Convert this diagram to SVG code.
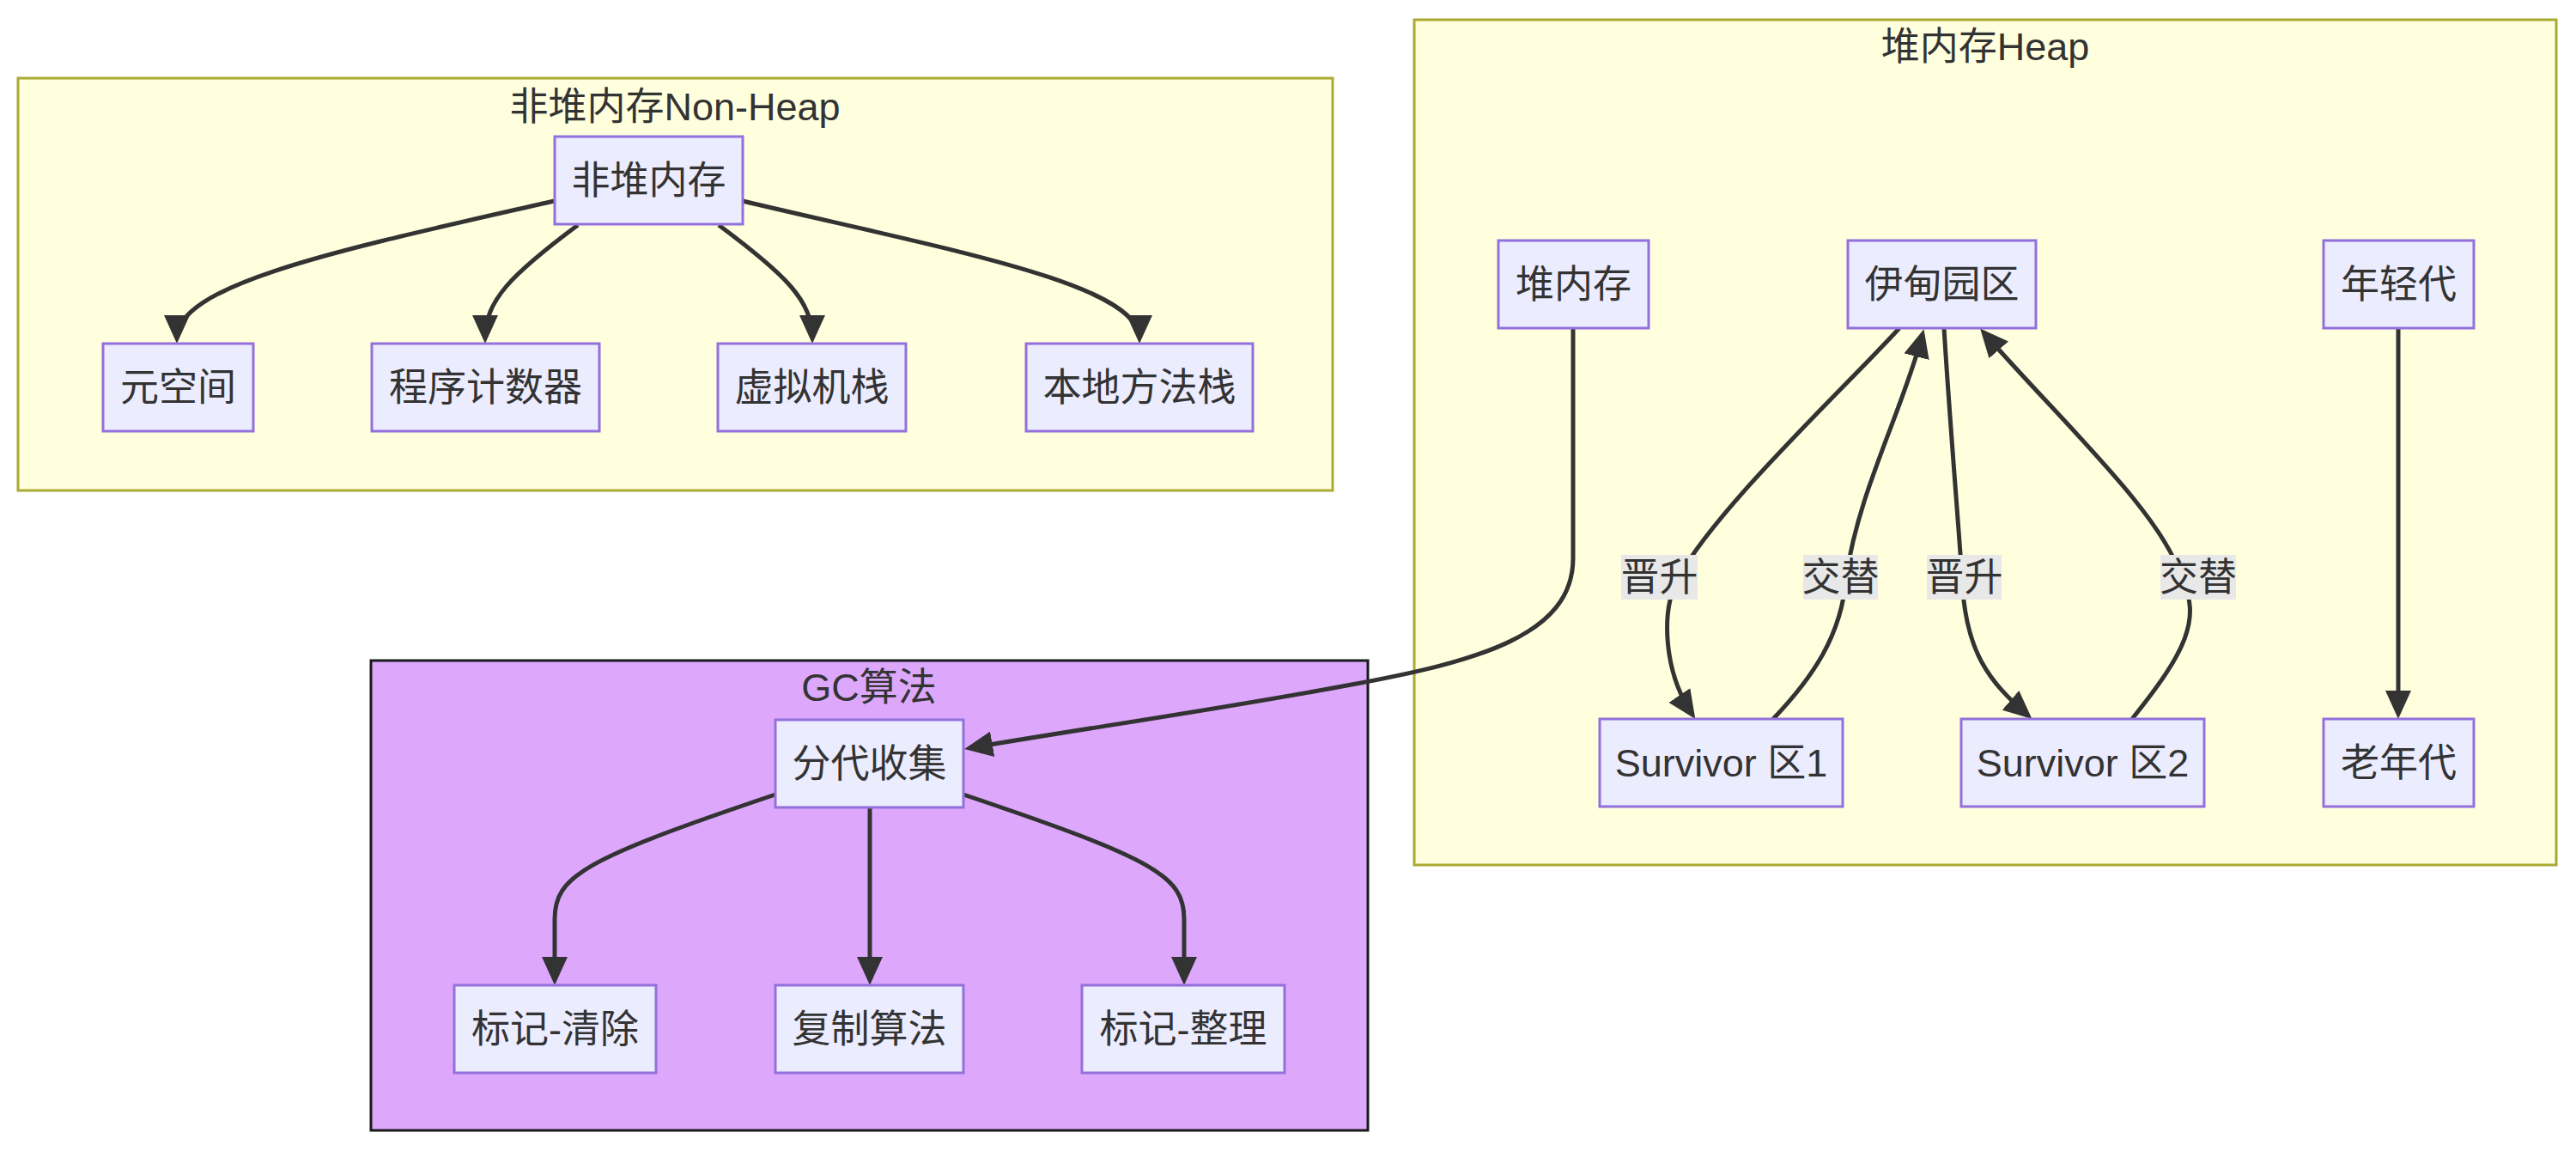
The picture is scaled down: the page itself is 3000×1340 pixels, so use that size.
<svg xmlns="http://www.w3.org/2000/svg" width="3000" height="1340" viewBox="0 0 3000 1340">
<style>
text{font-family:"Liberation Sans","Noto Sans CJK SC",sans-serif;font-size:45px;fill:#333;text-anchor:middle;dominant-baseline:central}
.cl{fill:#ffffde;stroke:#aaaa33;stroke-width:3}
.gc{fill:#dda8fc;stroke:#1a1a1a;stroke-width:3}
.nd{fill:#ececff;stroke:#9370db;stroke-width:3}
.e{fill:none;stroke:#333;stroke-width:5}
.lb{fill:#e8e8e8}
</style>
<defs>
<marker id="ah" viewBox="0 0 10 10" refX="8.2" refY="5" markerUnits="userSpaceOnUse" markerWidth="33" markerHeight="30" orient="auto" preserveAspectRatio="none">
<path d="M0,0 L10,5 L0,10 z" fill="#333"/>
</marker>
</defs>
<g id="cluster-nonheap"><rect class="cl" x="21" y="91" width="1531" height="480"/><text x="786" y="124">非堆内存Non-Heap</text></g>
<g id="cluster-heap"><rect class="cl" x="1647" y="23" width="1330" height="984"/><text x="2312" y="54">堆内存Heap</text></g>
<g id="cluster-gc"><rect class="gc" x="432" y="769" width="1161" height="547"/><text x="1012" y="800">GC算法</text></g>
<g id="edges">
<path class="e" marker-end="url(#ah)" d="M645,234 C400,290 206,330 206,394"/>
<path class="e" marker-end="url(#ah)" d="M673,262 C595,320 565,350 565,394"/>
<path class="e" marker-end="url(#ah)" d="M837,262 C915,320 946,350 946,394"/>
<path class="e" marker-end="url(#ah)" d="M865,234 C1100,290 1327,330 1327,394"/>
<path class="e" marker-end="url(#ah)" d="M1832,382 V650 C1832,740 1720,770 1574,797 C1420,826 1250,850 1129,871"/>
<path class="e" marker-end="url(#ah)" d="M2793,382 V831"/>
<path class="e" marker-end="url(#ah)" d="M2212,382 C2150,450 2000,590 1955,672 C1933,712 1938,783 1971,832"/>
<path class="e" marker-end="url(#ah)" d="M2065,837 C2110,790 2145,740 2150,672 C2165,570 2215,480 2239,389"/>
<path class="e" marker-end="url(#ah)" d="M2264,382 C2270,480 2280,600 2285,672 C2288,760 2318,795 2362,833"/>
<path class="e" marker-end="url(#ah)" d="M2483,837 C2545,760 2565,720 2540,672 C2520,600 2400,490 2310,387"/>
<path class="e" marker-end="url(#ah)" d="M903,925 C680,1000 646,1020 646,1070 V1141"/>
<path class="e" marker-end="url(#ah)" d="M1013,940 V1141"/>
<path class="e" marker-end="url(#ah)" d="M1122,925 C1345,1000 1379,1020 1379,1070 V1141"/>
<g id="edge-labels">
<rect class="lb" x="1888" y="646" width="89" height="52"/><text x="1932.5" y="672">晋升</text>
<rect class="lb" x="2100" y="646" width="87" height="52"/><text x="2143.5" y="672">交替</text>
<rect class="lb" x="2244" y="646" width="87" height="52"/><text x="2287.5" y="672">晋升</text>
<rect class="lb" x="2516" y="646" width="88" height="52"/><text x="2560" y="672">交替</text>
</g>
</g>
<g id="n-nonheap"><rect class="nd" x="646" y="159" width="219" height="102"/><text x="755.5" y="210">非堆内存</text></g>
<g id="n-meta"><rect class="nd" x="120" y="400" width="175" height="102"/><text x="207.5" y="451">元空间</text></g>
<g id="n-pc"><rect class="nd" x="433" y="400" width="265" height="102"/><text x="565.5" y="451">程序计数器</text></g>
<g id="n-vmstack"><rect class="nd" x="836" y="400" width="219" height="102"/><text x="945.5" y="451">虚拟机栈</text></g>
<g id="n-native"><rect class="nd" x="1195" y="400" width="264" height="102"/><text x="1327" y="451">本地方法栈</text></g>
<g id="n-heap"><rect class="nd" x="1745" y="280" width="175" height="102"/><text x="1832.5" y="331">堆内存</text></g>
<g id="n-eden"><rect class="nd" x="2152" y="280" width="219" height="102"/><text x="2261.5" y="331">伊甸园区</text></g>
<g id="n-young"><rect class="nd" x="2706" y="280" width="175" height="102"/><text x="2793.5" y="331">年轻代</text></g>
<g id="n-s1"><rect class="nd" x="1863" y="837" width="283" height="102"/><text x="2004.5" y="888">Survivor 区1</text></g>
<g id="n-s2"><rect class="nd" x="2284" y="837" width="283" height="102"/><text x="2425.5" y="888">Survivor 区2</text></g>
<g id="n-old"><rect class="nd" x="2706" y="837" width="175" height="102"/><text x="2793.5" y="888">老年代</text></g>
<g id="n-gen"><rect class="nd" x="903" y="838" width="219" height="102"/><text x="1012.5" y="889">分代收集</text></g>
<g id="n-ms"><rect class="nd" x="529" y="1147" width="235" height="102"/><text x="646.5" y="1198">标记-清除</text></g>
<g id="n-copy"><rect class="nd" x="903" y="1147" width="219" height="102"/><text x="1012.5" y="1198">复制算法</text></g>
<g id="n-mc"><rect class="nd" x="1260" y="1147" width="236" height="102"/><text x="1378" y="1198">标记-整理</text></g>
</svg>
